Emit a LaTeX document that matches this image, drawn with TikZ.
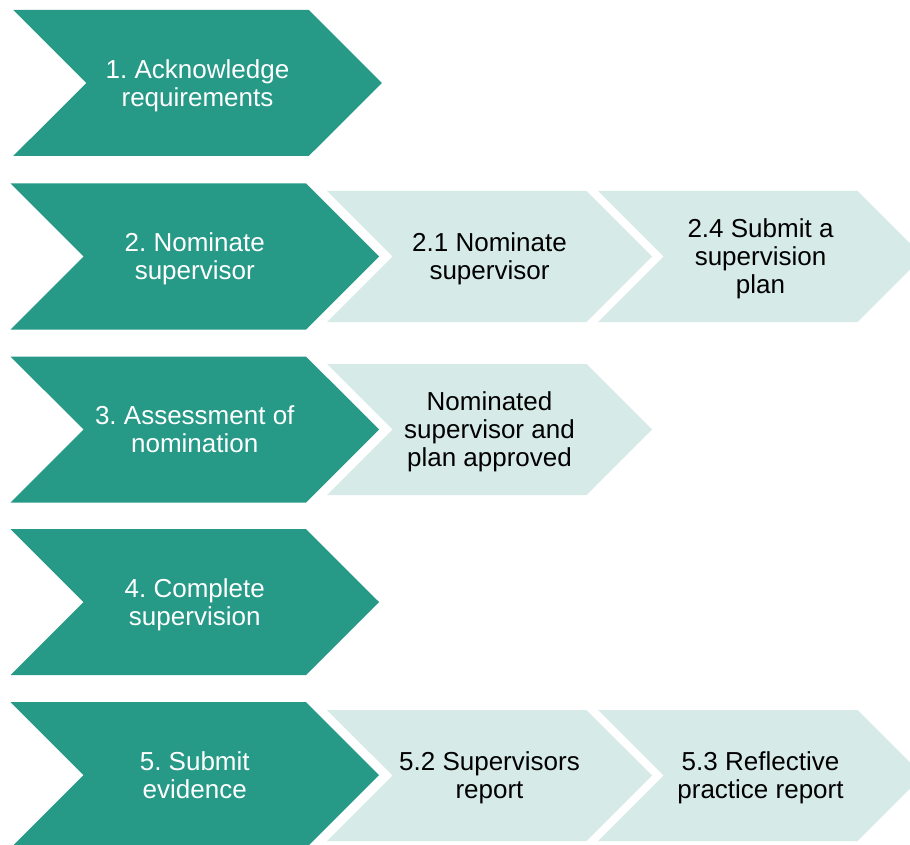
\documentclass[tikz,border=0pt]{standalone}
\usepackage{fontspec}
\setmainfont{Liberation Sans}
\usetikzlibrary{shapes.symbols}
\frenchspacing

\definecolor{phasegreen}{RGB}{38,153,135}
\definecolor{tasktint}{RGB}{214,235,231}

\begin{document}
\begin{tikzpicture}[x=1pt,y=-1pt,
    chevron/.style={shape=signal,signal to=east,signal from=west,signal pointer angle=90,inner sep=0pt,align=center,text depth=0pt,font=\fontsize{26}{28}\selectfont},
    phase/.style={chevron,fill=phasegreen,text=white,minimum width=368.5pt,minimum height=146pt},
    task/.style={chevron,fill=tasktint,text=black,minimum width=325pt,minimum height=131pt}]
        \useasboundingbox (0,0) rectangle (910,845);

        % main phases down the left
        \node[phase] at (197.5, 83) (p1) {1. Acknowledge\\requirements};
        \node[phase] at (194.75, 256.5) (p2) {2. Nominate\\supervisor};
        \node[phase] at (194.75, 429.5) (p3) {3. Assessment of\\nomination};
        \node[phase] at (194.75, 602) (p4) {4. Complete\\supervision};
        \node[phase] at (194.75, 775) (p5) {5. Submit\\evidence};

        % sub steps
        \node[task] at (489.5, 256.5) (t21) {2.1 Nominate\\supervisor};
        \node[task] at (760.5, 256.5) (t24) {2.4 Submit a\\supervision\\plan};
        \node[task] at (489.5, 429.5) (t3) {Nominated\\supervisor and\\plan approved};
        \node[task] at (489.5, 775.5) (t52) {5.2 Supervisors\\report};
        \node[task] at (760.5, 775.5) (t53) {5.3 Reflective\\practice report};
    \end{tikzpicture}
\end{document}
